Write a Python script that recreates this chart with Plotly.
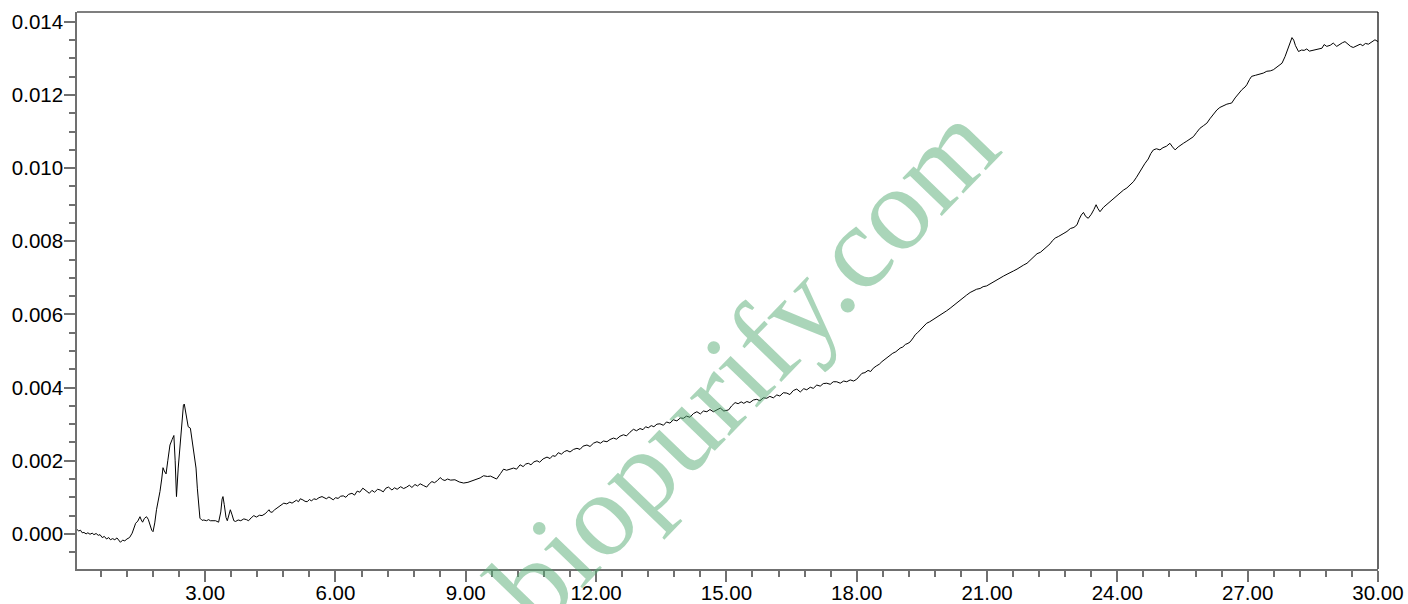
import plotly.graph_objects as go

# (retention time in min, absorbance in AU), by region
start_baseline = [
    (0.05, 0.00012), (0.09, 0.00008), (0.13, 0.00010), (0.17, 0.00003), (0.21, 0.00004), (0.26, 0.00000),
    (0.30, 0.00003), (0.35, -0.00001), (0.40, 0.00002), (0.44, -0.00002), (0.49, 0.00001), (0.54, -0.00004),
    (0.58, -0.00002), (0.63, -0.00010), (0.68, -0.00007), (0.73, -0.00014), (0.78, -0.00010), (0.82, -0.00016),
    (0.87, -0.00013), (0.92, -0.00016), (0.97, -0.00011), (1.01, -0.00017), (1.05, -0.00023), (1.10, -0.00017),
    (1.15, -0.00019), (1.20, -0.00014), (1.26, -0.00010), (1.32, 0.00002),
]
early_peaks = [
    (1.36, 0.00015), (1.40, 0.00029), (1.45, 0.00035), (1.50, 0.00047), (1.53, 0.00038), (1.56, 0.00032),
    (1.60, 0.00042), (1.65, 0.00047), (1.69, 0.00040), (1.73, 0.00025), (1.77, 0.00010), (1.80, 0.00006),
    (1.84, 0.00030), (1.88, 0.00066), (1.92, 0.00090), (1.96, 0.00116), (2.00, 0.00150), (2.03, 0.00181),
    (2.06, 0.00172), (2.10, 0.00164), (2.14, 0.00200), (2.19, 0.00243), (2.24, 0.00258), (2.28, 0.00269),
    (2.31, 0.00200), (2.34, 0.00102), (2.38, 0.00180), (2.43, 0.00262), (2.47, 0.00320), (2.50, 0.00352),
    (2.52, 0.00355), (2.55, 0.00335), (2.58, 0.00305), (2.61, 0.00293), (2.66, 0.00289), (2.70, 0.00255),
    (2.75, 0.00216), (2.79, 0.00180), (2.82, 0.00125), (2.85, 0.00070), (2.88, 0.00043), (2.93, 0.00037),
    (2.97, 0.00038), (3.03, 0.00036), (3.08, 0.00039), (3.12, 0.00036), (3.18, 0.00035), (3.24, 0.00036),
    (3.31, 0.00032), (3.36, 0.00060), (3.39, 0.00095), (3.41, 0.00102), (3.44, 0.00080), (3.48, 0.00045),
    (3.51, 0.00036), (3.55, 0.00055), (3.58, 0.00066), (3.62, 0.00052), (3.66, 0.00036), (3.70, 0.00034),
]
slow_rise = [
    (3.76, 0.00038), (3.82, 0.00036), (3.89, 0.00041), (3.95, 0.00039), (4.00, 0.00036), (4.06, 0.00044),
    (4.12, 0.00050), (4.18, 0.00046), (4.25, 0.00051), (4.31, 0.00050), (4.38, 0.00055), (4.44, 0.00062),
    (4.47, 0.00066), (4.50, 0.00060), (4.54, 0.00059), (4.60, 0.00066), (4.67, 0.00072), (4.74, 0.00077),
    (4.81, 0.00084), (4.88, 0.00082), (4.95, 0.00087), (5.00, 0.00084), (5.04, 0.00088), (5.10, 0.00092),
    (5.15, 0.00088), (5.19, 0.00096), (5.25, 0.00093), (5.30, 0.00089), (5.35, 0.00088), (5.40, 0.00094),
    (5.45, 0.00090), (5.50, 0.00096), (5.56, 0.00094), (5.62, 0.00099), (5.69, 0.00102), (5.74, 0.00098),
    (5.79, 0.00096), (5.85, 0.00101), (5.90, 0.00096), (5.95, 0.00093), (6.00, 0.00099), (6.06, 0.00097),
    (6.12, 0.00103), (6.18, 0.00104), (6.24, 0.00100), (6.30, 0.00108), (6.38, 0.00111), (6.44, 0.00106),
    (6.50, 0.00117), (6.56, 0.00114), (6.63, 0.00125), (6.70, 0.00118), (6.78, 0.00111), (6.84, 0.00119),
    (6.90, 0.00114), (6.97, 0.00122), (7.03, 0.00120), (7.10, 0.00115), (7.16, 0.00125), (7.22, 0.00128),
    (7.30, 0.00120), (7.36, 0.00126), (7.42, 0.00122), (7.50, 0.00129), (7.57, 0.00124), (7.64, 0.00128),
    (7.70, 0.00133), (7.76, 0.00127), (7.83, 0.00135), (7.89, 0.00131), (7.95, 0.00137), (8.03, 0.00132),
    (8.10, 0.00128), (8.16, 0.00137), (8.22, 0.00143), (8.28, 0.00140), (8.35, 0.00146), (8.41, 0.00154),
    (8.47, 0.00148), (8.52, 0.00146), (8.58, 0.00150), (8.65, 0.00147), (8.75, 0.00148), (8.85, 0.00142),
    (8.95, 0.00139), (9.05, 0.00141), (9.12, 0.00144), (9.18, 0.00146), (9.25, 0.00149), (9.33, 0.00153),
    (9.41, 0.00159), (9.50, 0.00157), (9.57, 0.00158), (9.64, 0.00155), (9.71, 0.00150), (9.80, 0.00165),
    (9.87, 0.00177), (9.94, 0.00174), (10.02, 0.00178), (10.10, 0.00180), (10.17, 0.00177), (10.25, 0.00189),
    (10.32, 0.00184), (10.38, 0.00191), (10.44, 0.00193), (10.50, 0.00189), (10.57, 0.00197), (10.64, 0.00200),
    (10.70, 0.00196), (10.78, 0.00205), (10.87, 0.00210), (10.94, 0.00206), (11.00, 0.00214), (11.06, 0.00212),
    (11.13, 0.00222), (11.20, 0.00218), (11.27, 0.00225), (11.33, 0.00228), (11.40, 0.00224), (11.48, 0.00231),
    (11.56, 0.00234), (11.63, 0.00231), (11.70, 0.00240), (11.79, 0.00243), (11.86, 0.00239), (11.94, 0.00248),
    (12.02, 0.00252), (12.10, 0.00248), (12.17, 0.00254), (12.25, 0.00252), (12.32, 0.00258), (12.40, 0.00262),
    (12.47, 0.00259), (12.55, 0.00267), (12.63, 0.00271), (12.70, 0.00268), (12.78, 0.00278), (12.86, 0.00286),
    (12.93, 0.00282), (13.01, 0.00288), (13.08, 0.00285), (13.14, 0.00293), (13.20, 0.00290), (13.27, 0.00296),
    (13.33, 0.00293), (13.40, 0.00300), (13.47, 0.00301), (13.55, 0.00297), (13.62, 0.00306), (13.70, 0.00303),
    (13.78, 0.00312), (13.86, 0.00309), (13.94, 0.00317), (14.01, 0.00316), (14.08, 0.00322), (14.16, 0.00319),
    (14.24, 0.00329), (14.32, 0.00334), (14.40, 0.00328), (14.47, 0.00336), (14.55, 0.00334), (14.62, 0.00340),
    (14.70, 0.00334), (14.78, 0.00339), (14.86, 0.00344), (14.94, 0.00336), (15.05, 0.00339), (15.12, 0.00350),
    (15.20, 0.00359), (15.27, 0.00356), (15.34, 0.00361), (15.40, 0.00357), (15.47, 0.00362), (15.54, 0.00359),
    (15.62, 0.00366), (15.70, 0.00368), (15.77, 0.00364), (15.85, 0.00372), (15.93, 0.00371), (16.00, 0.00376),
    (16.08, 0.00372), (16.16, 0.00380), (16.23, 0.00377), (16.31, 0.00386), (16.39, 0.00385), (16.46, 0.00381),
    (16.54, 0.00392), (16.62, 0.00396), (16.70, 0.00388), (16.78, 0.00397), (16.85, 0.00394), (16.93, 0.00401),
    (17.00, 0.00398), (17.08, 0.00407), (17.16, 0.00404), (17.23, 0.00411), (17.31, 0.00412), (17.39, 0.00409),
    (17.46, 0.00416), (17.54, 0.00416), (17.62, 0.00412), (17.70, 0.00418), (17.77, 0.00416), (17.85, 0.00421),
    (17.93, 0.00418), (18.00, 0.00423),
]
gradient_rise = [
    (18.06, 0.00432), (18.12, 0.00439), (18.19, 0.00441), (18.26, 0.00447), (18.32, 0.00444), (18.38, 0.00453),
    (18.45, 0.00459), (18.52, 0.00464), (18.58, 0.00471), (18.64, 0.00477), (18.70, 0.00481), (18.77, 0.00489),
    (18.83, 0.00494), (18.90, 0.00498), (18.95, 0.00504), (19.00, 0.00508), (19.06, 0.00511), (19.12, 0.00518),
    (19.18, 0.00521), (19.23, 0.00525), (19.30, 0.00536), (19.35, 0.00545), (19.40, 0.00550), (19.46, 0.00557),
    (19.53, 0.00566), (19.61, 0.00576), (19.68, 0.00580), (19.76, 0.00586), (19.84, 0.00591), (19.91, 0.00597),
    (19.99, 0.00602), (20.07, 0.00610), (20.15, 0.00617), (20.22, 0.00624), (20.30, 0.00631), (20.38, 0.00640),
    (20.45, 0.00645), (20.53, 0.00653), (20.61, 0.00660), (20.68, 0.00664), (20.76, 0.00669), (20.84, 0.00671),
    (20.91, 0.00676), (20.99, 0.00678), (21.07, 0.00684), (21.15, 0.00689), (21.22, 0.00693), (21.30, 0.00699),
    (21.38, 0.00705), (21.46, 0.00710), (21.54, 0.00714), (21.61, 0.00719), (21.69, 0.00724), (21.77, 0.00731),
    (21.84, 0.00735), (21.92, 0.00740), (22.00, 0.00749), (22.07, 0.00758), (22.15, 0.00766), (22.23, 0.00770),
    (22.30, 0.00777), (22.38, 0.00784), (22.45, 0.00793), (22.50, 0.00801), (22.57, 0.00809), (22.64, 0.00813),
    (22.70, 0.00818), (22.77, 0.00822), (22.84, 0.00827), (22.92, 0.00835), (23.00, 0.00838), (23.07, 0.00845),
    (23.12, 0.00860), (23.17, 0.00872), (23.22, 0.00879), (23.27, 0.00868), (23.33, 0.00863), (23.40, 0.00874),
    (23.46, 0.00887), (23.51, 0.00900), (23.55, 0.00890), (23.60, 0.00881), (23.68, 0.00893), (23.75, 0.00900),
    (23.83, 0.00909), (23.91, 0.00917), (23.98, 0.00925), (24.06, 0.00933), (24.14, 0.00940), (24.22, 0.00946),
    (24.30, 0.00955), (24.37, 0.00963), (24.44, 0.00975), (24.50, 0.00988), (24.56, 0.01000), (24.63, 0.01012),
    (24.71, 0.01025), (24.77, 0.01040), (24.83, 0.01050), (24.90, 0.01053), (24.98, 0.01050), (25.05, 0.01056),
    (25.13, 0.01060), (25.21, 0.01068), (25.27, 0.01058), (25.33, 0.01050), (25.40, 0.01058), (25.46, 0.01062),
    (25.52, 0.01068), (25.60, 0.01074), (25.67, 0.01080), (25.75, 0.01086), (25.82, 0.01097), (25.90, 0.01109),
    (25.98, 0.01116), (26.06, 0.01123), (26.13, 0.01135), (26.21, 0.01148), (26.29, 0.01159), (26.36, 0.01166),
    (26.44, 0.01171), (26.52, 0.01175), (26.59, 0.01177), (26.63, 0.01178), (26.71, 0.01192), (26.79, 0.01205),
    (26.87, 0.01215), (26.94, 0.01222), (26.98, 0.01228), (27.04, 0.01242), (27.09, 0.01251), (27.18, 0.01254),
    (27.27, 0.01256), (27.36, 0.01260), (27.44, 0.01265), (27.52, 0.01266), (27.59, 0.01269), (27.66, 0.01275),
    (27.73, 0.01283), (27.79, 0.01287),
]
final_plateau = [
    (27.86, 0.01305), (27.92, 0.01325), (27.97, 0.01345), (28.02, 0.01357), (28.06, 0.01350), (28.10, 0.01335),
    (28.17, 0.01319), (28.24, 0.01323), (28.30, 0.01322), (28.36, 0.01326), (28.42, 0.01320), (28.48, 0.01322),
    (28.55, 0.01324), (28.63, 0.01325), (28.71, 0.01328), (28.76, 0.01338), (28.82, 0.01333), (28.90, 0.01336),
    (28.97, 0.01342), (29.05, 0.01333), (29.12, 0.01339), (29.18, 0.01343), (29.24, 0.01346), (29.30, 0.01340),
    (29.37, 0.01333), (29.43, 0.01330), (29.50, 0.01334), (29.59, 0.01339), (29.65, 0.01335), (29.71, 0.01341),
    (29.78, 0.01339), (29.85, 0.01345), (29.93, 0.01351), (30.00, 0.01346),
]

x_range = [0.05, 30.0]
y_range = [-0.00096, 0.01427]
watermark = "biopurify.com"

readings = start_baseline + early_peaks + slow_rise + gradient_rise + final_plateau
time_min = [t for t, _ in readings]
absorbance = [a for _, a in readings]

fig = go.Figure()
fig.add_trace(go.Scatter(x=time_min, y=absorbance, mode="lines",
                         line=dict(color="black", width=1), hoverinfo="skip", showlegend=False))

axis_grey = "#707070"
tick_font = dict(family="Liberation Sans, Arial, sans-serif", size=20.5, color="black")
fig.update_xaxes(range=x_range, tick0=0, dtick=3, tickformat=".2f", automargin=False,
                 showgrid=False, zeroline=False, showline=True, linecolor=axis_grey, linewidth=1.5,
                 ticks="outside", ticklen=11, tickwidth=1.5, tickcolor=axis_grey, ticklabelstandoff=-6,
                 minor=dict(dtick=0.6, tick0=0, ticks="outside", ticklen=6, tickwidth=1.5, tickcolor=axis_grey),
                 tickfont=tick_font)
fig.update_yaxes(range=y_range, tick0=0, dtick=0.002, tickformat=".3f", automargin=False,
                 showgrid=False, zeroline=False, showline=True, linecolor=axis_grey, linewidth=1.5,
                 ticks="outside", ticklen=11, tickwidth=1.5, tickcolor=axis_grey, ticklabelstandoff=-3,
                 minor=dict(dtick=0.0005, tick0=0, ticks="outside", ticklen=6, tickwidth=1.5, tickcolor=axis_grey),
                 tickfont=tick_font)

# top and right frame lines (black)
fig.add_shape(type="line", xref="paper", yref="paper", x0=0, x1=1, y0=1, y1=1,
              line=dict(color="black", width=1.2))
fig.add_shape(type="line", xref="paper", yref="paper", x0=1, x1=1, y0=0, y1=1,
              line=dict(color="black", width=1.2))

fig.add_annotation(text=watermark, xref="paper", yref="paper", x=0.512, y=0.368,
                   showarrow=False, textangle=-46,
                   font=dict(family="Liberation Serif, Times New Roman, serif", size=119,
                             color="rgba(85,171,115,0.5)"))

fig.update_layout(width=1408, height=604, plot_bgcolor="white", paper_bgcolor="white",
                  margin=dict(l=77, r=30, t=12, b=35))

fig.write_html("out.html", config={"displayModeBar": False},
               post_script="document.body.style.margin='0px';document.body.style.overflow='hidden';")
